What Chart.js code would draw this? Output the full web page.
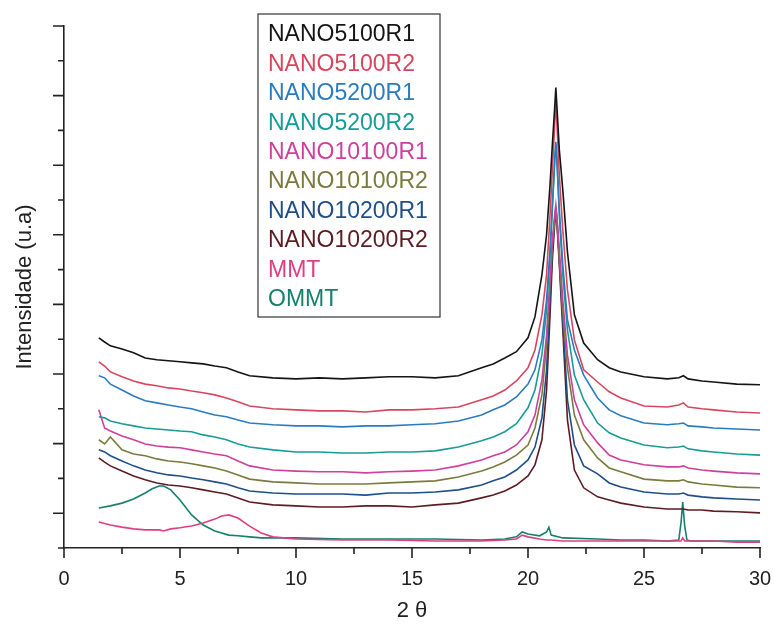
<!DOCTYPE html>
<html>
<head>
<meta charset="utf-8">
<script src="https://cdn.jsdelivr.net/npm/chart.js@4.4.1/dist/chart.umd.min.js"></script>
<style>
  html, body { margin: 0; padding: 0; background: #fff; }
  #wrap { width: 774px; height: 626px; }
</style>
</head>
<body>
<div id="wrap"><canvas id="xrd" width="774" height="626"></canvas></div>
<script>
// 2θ sampling used for the nanocomposite scans
const twoTheta = [1.5, 1.75, 2, 2.5, 3, 3.5, 4, 4.5, 5, 5.5, 6, 6.5, 7, 7.5, 8, 9, 10, 11, 12, 13,
  14, 15, 16, 17, 18, 18.5, 19, 19.5, 20, 20.3, 20.6, 20.8, 20.95, 21.05, 21.15, 21.2, 21.25, 21.35, 21.5, 21.7,
  22, 22.4, 23, 23.5, 24, 25, 26, 26.5, 26.7, 26.9, 27.5, 28, 29, 30];

// intensities (a.u., stacked) for each sample
const nano5100r1 = [604, 592, 581, 572, 561, 546, 541, 538, 535, 532, 529, 523, 518, 506, 495, 489, 486, 489, 486, 489,
  492, 492, 489, 495, 518, 529, 546, 564, 604, 664, 785, 900, 1044, 1159, 1265, 1323, 1265, 1144, 1029, 851,
  670, 589, 541, 518, 506, 492, 486, 489, 495, 486, 480, 477, 471, 469];
const nano5100r2 = [535, 523, 506, 492, 480, 471, 466, 460, 457, 451, 446, 440, 431, 420, 408, 400, 397, 394, 394, 391,
  397, 397, 400, 405, 426, 437, 454, 480, 518, 569, 670, 785, 957, 1087, 1216, 1282, 1216, 1072, 914, 742,
  598, 512, 477, 449, 431, 408, 405, 411, 417, 405, 400, 397, 391, 388];
const nano5200r1 = [495, 489, 471, 454, 437, 423, 417, 411, 405, 400, 391, 382, 377, 368, 359, 354, 351, 351, 348, 351,
  351, 354, 357, 365, 382, 397, 411, 434, 471, 512, 598, 713, 857, 986, 1116, 1167, 1116, 972, 814, 656,
  569, 497, 431, 397, 380, 359, 354, 357, 359, 351, 348, 345, 342, 339];
const nano5200r2 = [377, 374, 365, 357, 351, 345, 342, 339, 336, 334, 325, 319, 311, 299, 290, 282, 276, 276, 273, 273,
  276, 276, 279, 290, 308, 319, 334, 357, 403, 454, 555, 684, 842, 972, 1107, 1159, 1107, 957, 785, 627,
  497, 426, 359, 331, 316, 296, 288, 290, 293, 285, 279, 276, 270, 267];
const nano10100r1 = [397, 345, 336, 322, 311, 299, 293, 290, 288, 282, 276, 270, 265, 250, 236, 224, 221, 219, 219, 216,
  219, 221, 224, 236, 253, 265, 276, 296, 334, 382, 483, 612, 771, 886, 957, 986, 949, 857, 713, 555,
  426, 354, 302, 267, 253, 239, 233, 233, 236, 230, 224, 221, 216, 213];
const nano10100r2 = [311, 299, 319, 282, 270, 265, 256, 250, 247, 242, 236, 230, 221, 210, 198, 190, 187, 184, 184, 184,
  187, 190, 193, 204, 221, 233, 247, 267, 296, 345, 440, 584, 756, 871, 943, 966, 937, 834, 679, 518,
  382, 311, 259, 230, 219, 198, 193, 193, 196, 190, 184, 181, 175, 173];
const nano10200r1 = [282, 276, 265, 250, 236, 224, 216, 210, 207, 201, 196, 190, 184, 173, 164, 158, 155, 155, 155, 152,
  158, 158, 161, 167, 181, 193, 204, 224, 253, 290, 374, 512, 713, 857, 943, 978, 943, 828, 656, 426,
  296, 236, 213, 187, 175, 161, 155, 155, 158, 152, 147, 144, 141, 138];
const nano10200r2 = [259, 247, 236, 221, 207, 196, 187, 181, 178, 173, 167, 161, 155, 144, 132, 124, 121, 118, 118, 121,
  121, 118, 124, 129, 144, 152, 164, 181, 207, 239, 311, 454, 670, 828, 929, 963, 929, 814, 627, 368,
  224, 173, 147, 138, 129, 118, 112, 112, 112, 109, 109, 106, 104, 101];

// clay references were scanned on their own 2θ grid
const twoThetaClay = [1.5, 2, 2.5, 3, 3.5, 3.8, 4.1, 4.3, 4.6, 5, 5.5, 6, 6.5, 6.8, 7.1, 7.5, 8, 8.5, 9, 10,
  12, 14, 16, 18, 19, 19.5, 19.75, 20, 20.5, 20.8, 20.9, 21, 21.5, 23, 24, 25, 26, 26.5, 26.6, 26.67,
  26.75, 26.85, 27, 28, 29, 30];
const mmt = [75, 66, 60, 55, 52, 52, 52, 49, 55, 58, 63, 72, 83, 92, 95, 86, 63, 43, 32, 26,
  23, 23, 20, 20, 23, 26, 37, 32, 26, 23, 23, 23, 20, 20, 20, 20, 20, 20, 20, 29,
  20, 20, 20, 20, 17, 17];
const ommt = [115, 121, 129, 141, 158, 170, 178, 178, 167, 138, 95, 66, 49, 43, 37, 35, 32, 29, 29, 29,
  26, 26, 26, 23, 26, 32, 46, 40, 35, 46, 60, 37, 29, 26, 23, 23, 20, 23, 75, 132,
  66, 23, 20, 20, 20, 20];

const xMajorTicks = [0, 5, 10, 15, 20, 25, 30];
const yMax = 1500;
const yStep = 100;

const FONT = "'Liberation Sans', Arial, Helvetica, sans-serif";

const series = [
  { label: 'NANO5100R1', x: twoTheta, y: nano5100r1, color: '#151515' },
  { label: 'NANO5100R2', x: twoTheta, y: nano5100r2, color: '#d8465e' },
  { label: 'NANO5200R1', x: twoTheta, y: nano5200r1, color: '#2a7cc0' },
  { label: 'NANO5200R2', x: twoTheta, y: nano5200r2, color: '#179c98' },
  { label: 'NANO10100R1', x: twoTheta, y: nano10100r1, color: '#cf3f9c' },
  { label: 'NANO10100R2', x: twoTheta, y: nano10100r2, color: '#7b7b3e' },
  { label: 'NANO10200R1', x: twoTheta, y: nano10200r1, color: '#1e4f88' },
  { label: 'NANO10200R2', x: twoTheta, y: nano10200r2, color: '#5e1c22' },
  { label: 'MMT', x: twoThetaClay, y: mmt, color: '#de3f84' },
  { label: 'OMMT', x: twoThetaClay, y: ommt, color: '#16806c' }
];

const datasets = series.map(s => ({
  label: s.label,
  data: s.x.map((v, i) => ({ x: v, y: s.y[i] })),
  borderColor: s.color,
  backgroundColor: s.color,
  borderWidth: 1.6,
  pointRadius: 0,
  tension: 0,
  fill: false
}));

// outward ticks: long majors, short minors in between
const axisTicks = {
  id: 'axisTicks',
  afterDraw(chart) {
    const { ctx, scales: { x, y } } = chart;
    ctx.save();
    ctx.strokeStyle = '#222';
    ctx.lineWidth = 1.6;
    ctx.beginPath();
    xMajorTicks.forEach((v, i) => {
      const px = x.getPixelForValue(v);
      ctx.moveTo(px, y.bottom);
      ctx.lineTo(px, y.bottom + 10);
      if (i < xMajorTicks.length - 1) {
        const mx = x.getPixelForValue((v + xMajorTicks[i + 1]) / 2);
        ctx.moveTo(mx, y.bottom);
        ctx.lineTo(mx, y.bottom + 6);
      }
    });
    for (let v = 0; v <= yMax; v += yStep) {
      const py = y.getPixelForValue(v);
      const len = (v / yStep) % 2 === 1 ? 11 : 6;
      ctx.moveTo(x.left, py);
      ctx.lineTo(x.left - len, py);
    }
    ctx.stroke();
    ctx.restore();
  }
};

// boxed legend with coloured labels, sitting inside the plot
const boxLegend = {
  id: 'boxLegend',
  afterDraw(chart) {
    const { ctx } = chart;
    const left = 258, top = 14, width = 182, height = 303;
    ctx.save();
    ctx.fillStyle = '#fff';
    ctx.fillRect(left, top, width, height);
    ctx.strokeStyle = '#333';
    ctx.lineWidth = 1.2;
    ctx.strokeRect(left, top, width, height);
    ctx.font = '23px ' + FONT;
    ctx.textBaseline = 'middle';
    ctx.textAlign = 'left';
    chart.data.datasets.forEach((ds, i) => {
      ctx.fillStyle = ds.borderColor;
      ctx.fillText(ds.label, left + 10, top + 21 + i * 29.4);
    });
    ctx.restore();
  }
};

new Chart(document.getElementById('xrd'), {
  type: 'line',
  data: { datasets },
  options: {
    responsive: false,
    animation: false,
    layout: { padding: { top: 26, right: 14, left: 0, bottom: 0 } },
    plugins: {
      legend: { display: false },
      tooltip: { enabled: false }
    },
    scales: {
      x: {
        type: 'linear',
        min: 0,
        max: 30,
        afterBuildTicks: scale => { scale.ticks = xMajorTicks.map(v => ({ value: v })); },
        ticks: { color: '#222', font: { family: FONT, size: 20 }, padding: 11, maxRotation: 0 },
        grid: { display: false },
        border: { color: '#222', width: 1.6 },
        title: { display: true, text: '2 θ', color: '#222', font: { family: FONT, size: 22 }, padding: { top: 4, bottom: 2 } },
        afterFit: scale => {
          scale.height = 78;
          scale.paddingLeft = 0;
          scale.paddingRight = 0;
        }
      },
      y: {
        type: 'linear',
        min: 0,
        max: yMax,
        ticks: { display: false, stepSize: yStep },
        grid: { display: false },
        border: { color: '#222', width: 1.6 },
        title: { display: true, text: 'Intensidade (u.a)', color: '#222', font: { family: FONT, size: 22 }, padding: { top: 12, bottom: 0 } },
        afterFit: scale => { scale.width = 64; }
      }
    }
  },
  plugins: [axisTicks, boxLegend]
});
</script>
</body>
</html>
